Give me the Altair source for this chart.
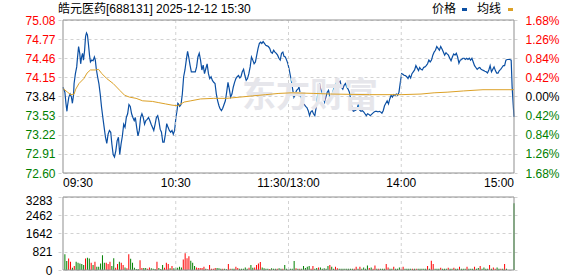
import altair as alt
import pandas as pd

TITLE = "皓元医药[688131] 2025-12-12 15:30"
LEGEND = ["价格", "均线"]
WATERMARK = "东方财富"
PRE_CLOSE = 73.84

price_ticks = [72.60, 72.91, 73.22, 73.53, 73.84, 74.15, 74.46, 74.77, 75.08]
pct_ticks = [-1.68, -1.26, -0.84, -0.42, 0.00, 0.42, 0.84, 1.26, 1.68]
vol_ticks = [0, 821, 1642, 2462, 3283]
time_ticks = [0, 60, 120, 180, 240]
time_labels = ["09:30", "10:30", "11:30/13:00", "14:00", "15:00"]
grid_minutes = [60, 120, 180]

price_minute = [
    0.0, 1.0, 1.6, 2.1, 2.4, 3.1, 3.8, 4.5, 5.0, 5.6, 5.9, 6.6, 7.3, 7.6, 8.3, 8.9, 9.4, 9.9, 10.4, 10.9,
    11.5, 12.0, 12.5, 13.0, 13.5, 14.1, 14.6, 15.3, 16.0, 16.7, 17.2, 17.7, 18.4, 19.1, 19.8, 20.5, 21.2, 21.9, 22.6, 23.3,
    24.0, 24.7, 25.4, 26.0, 26.7, 27.4, 28.1, 28.8, 29.5, 30.2, 30.9, 31.6, 32.3, 33.0, 33.7, 34.4, 35.1, 35.8, 36.5, 37.2,
    37.9, 38.5, 39.2, 39.9, 40.6, 41.3, 42.0, 42.7, 43.4, 44.1, 44.8, 45.5, 46.2, 46.9, 47.6, 48.3, 49.0, 49.7, 50.4, 51.0,
    51.7, 52.4, 53.1, 53.8, 54.5, 55.2, 55.9, 56.6, 57.3, 58.0, 58.7, 59.4, 60.1, 60.8, 61.1,
    61.4, 62.1, 62.8, 63.5, 64.2, 64.9, 65.6, 66.3, 66.9, 67.6, 68.3, 69.0, 69.8, 70.4, 71.1, 71.8, 72.5, 73.2, 73.9, 74.6,
    75.3, 76.0, 76.7, 77.4, 78.1, 78.8, 79.5, 80.2, 80.9, 81.6, 82.3, 83.0, 83.6, 84.3, 85.0, 85.7, 86.4, 87.1, 87.8, 88.5,
    89.2, 89.9, 90.6, 91.3, 92.0, 92.7, 93.4, 94.1, 94.7, 95.4, 96.1, 96.8, 97.5, 98.2, 98.9, 99.6, 100.3, 101.0, 101.7, 102.4,
    103.1, 103.8, 104.5, 105.2, 105.8, 106.5, 107.2, 107.9, 108.6, 109.3, 110.0, 110.7, 111.4, 112.1, 112.8, 113.5, 114.2, 114.9, 115.6, 116.3,
    117.0, 117.6, 118.3, 119.0, 119.7, 120.4, 121.1, 121.8,
    122.2, 122.9, 123.6, 124.3, 125.0, 125.6, 126.3, 127.0, 127.7, 128.4, 129.1, 129.8, 130.5, 131.2, 131.9, 132.6, 133.3, 134.0, 134.7, 135.4,
    136.1, 136.6, 137.1, 137.8, 138.5, 139.2, 139.9, 140.6, 141.3, 142.0, 142.6, 143.3, 144.0, 144.7, 145.4, 146.1, 146.8, 147.5, 148.2, 148.9,
    149.6, 150.3, 151.0, 151.7, 152.4, 153.1, 153.8, 154.5, 155.2, 155.9, 156.5, 157.2, 157.9, 158.6, 159.3, 160.0, 160.7, 161.4, 162.1, 162.8,
    163.5, 164.2, 164.9, 165.6, 166.3, 167.0, 167.6, 168.3, 169.0, 169.7, 170.4, 171.1, 171.8, 172.5, 173.2, 173.9, 174.6, 175.3, 176.0, 176.7,
    177.4, 178.1, 178.8, 179.5, 180.2, 180.9, 181.6,
    182.2, 182.9, 183.6, 184.3, 185.0, 185.7, 186.4, 187.1, 187.8, 188.5, 189.2, 189.8, 190.5, 191.2, 191.9, 192.6, 193.3, 194.0, 194.7, 195.4,
    196.1, 196.8, 197.5, 198.2, 198.9, 199.6, 200.3, 201.0, 201.7, 202.4, 203.1, 203.8, 204.4, 205.1, 205.8, 206.5, 207.2, 207.9, 208.6, 209.3,
    210.0, 210.7, 211.4, 212.1, 212.8, 213.5, 214.1, 214.8, 215.5, 216.2, 216.9, 217.6, 218.3, 219.0, 219.7, 220.4, 221.1, 221.8, 222.5, 223.2,
    223.9, 224.5, 225.2, 225.9, 226.6, 227.3, 228.0, 228.7, 229.4, 230.1, 230.8, 231.5, 232.2, 232.9, 233.6, 234.3, 235.0, 235.7, 236.4, 237.1,
    237.8, 238.5, 239.0, 239.6, 240.0,
]
price_value = [
    73.99, 73.91, 73.72, 73.60, 73.69, 73.83, 73.88, 73.83, 73.73, 73.86, 74.05, 74.21, 74.32, 74.43, 74.65, 74.54, 74.37, 74.48, 74.54, 74.43,
    74.59, 74.81, 74.87, 74.84, 74.70, 74.51, 74.40, 74.43, 74.42, 74.48, 74.43, 74.29, 74.16, 74.05, 73.88, 73.67, 73.50, 73.34, 73.18, 73.08,
    73.23, 73.29, 73.26, 73.07, 72.90, 72.86, 72.96, 73.12, 73.18, 72.90, 73.07, 73.20, 73.39, 73.34, 73.50, 73.56, 73.71, 73.68, 73.56, 73.50,
    73.45, 73.50, 73.34, 73.20, 73.29, 73.50, 73.56, 73.50, 73.39, 73.45, 73.47, 73.50, 73.45, 73.39, 73.34, 73.29, 73.39, 73.50, 73.53, 73.45,
    73.31, 73.26, 73.10, 73.10, 73.23, 73.40, 73.34, 73.29, 73.26, 73.29, 73.23, 73.29, 73.50, 73.64, 73.73,
    73.72, 73.68, 73.71, 73.88, 74.16, 74.27, 74.43, 74.57, 74.48, 74.35, 74.24, 74.24, 74.24, 74.24, 74.32, 74.48, 74.54, 74.43, 74.27, 74.35,
    74.21, 74.29, 74.37, 74.21, 74.13, 74.16, 74.10, 74.07, 74.05, 73.88, 73.77, 73.69, 73.64, 73.61, 73.65, 73.71, 73.77, 73.91, 74.07, 73.96,
    73.83, 73.88, 73.99, 74.07, 74.13, 74.16, 74.18, 74.14, 74.16, 74.24, 74.28, 74.18, 74.10, 74.13, 74.21, 74.32, 74.48, 74.43, 74.37, 74.40,
    74.51, 74.62, 74.70, 74.72, 74.70, 74.73, 74.70, 74.67, 74.66, 74.65, 74.62, 74.56, 74.54, 74.59, 74.56, 74.54, 74.51, 74.46, 74.43, 74.54,
    74.56, 74.49, 74.48, 74.43, 74.37, 74.27, 74.16, 74.05,
    73.96, 73.83, 73.88, 73.94, 73.96, 73.99, 73.88, 73.80, 73.72, 73.71, 73.68, 73.66, 73.61, 73.53, 73.59, 73.61, 73.56, 73.53, 73.66, 73.83,
    73.96, 74.05, 73.96, 73.91, 73.83, 73.75, 73.83, 73.91, 73.94, 73.83, 73.83, 73.88, 73.96, 74.02, 74.06, 74.05, 74.07, 74.09, 73.99, 73.96,
    74.02, 74.05, 73.99, 73.96, 73.91, 73.80, 73.64, 73.60, 73.61, 73.62, 73.64, 73.72, 73.62, 73.60, 73.61, 73.59, 73.56, 73.53, 73.56, 73.55,
    73.53, 73.55, 73.57, 73.59, 73.60, 73.60, 73.59, 73.60, 73.59, 73.57, 73.61, 73.69, 73.73, 73.77, 73.72, 73.80, 73.86, 73.83, 73.87, 73.86,
    73.88, 73.86, 73.91, 74.07, 74.21, 74.20, 74.18,
    74.18, 74.16, 74.13, 74.18, 74.14, 74.21, 74.24, 74.27, 74.34, 74.30, 74.26, 74.31, 74.28, 74.27, 74.31, 74.32, 74.34, 74.37, 74.43, 74.40,
    74.43, 74.51, 74.56, 74.59, 74.65, 74.62, 74.59, 74.65, 74.61, 74.56, 74.51, 74.55, 74.53, 74.51, 74.46, 74.42, 74.48, 74.53, 74.51, 74.54,
    74.48, 74.38, 74.43, 74.44, 74.46, 74.46, 74.44, 74.46, 74.44, 74.46, 74.43, 74.46, 74.40, 74.34, 74.31, 74.28, 74.30, 74.31, 74.28, 74.27,
    74.26, 74.25, 74.24, 74.22, 74.27, 74.34, 74.24, 74.28, 74.32, 74.26, 74.22, 74.22, 74.26, 74.28, 74.31, 74.34, 74.34, 74.43, 74.44, 74.44,
    74.44, 74.43, 74.00, 73.70, 73.51,
]

avg_minute = [0, 2.4, 4.2, 5.9, 6.8, 8.5, 11.1, 12.8, 14.6, 17.2, 18.9, 20.7, 23.3, 26.7, 30.2,
              32.8, 35.4, 38.9, 42.4, 47.6, 51.0, 54.5, 58.0, 61.1, 64.5, 68.0, 73.2, 80.2, 87.1, 94.1,
              101.0, 107.9, 114.9, 121.8, 133.5, 142.3, 163.1, 177.0, 180.1, 190.5, 197.5, 204.4, 213.1, 223.5, 240]
avg_value = [73.97, 73.91, 73.87, 73.88, 73.96, 74.05, 74.13, 74.22, 74.27, 74.27, 74.28, 74.21, 74.13, 74.05, 73.94,
             73.86, 73.83, 73.81, 73.77, 73.76, 73.74, 73.72, 73.70, 73.69, 73.75, 73.77, 73.80, 73.81, 73.81, 73.83,
             73.85, 73.87, 73.89, 73.90, 73.89, 73.88, 73.87, 73.87, 73.87, 73.88, 73.90, 73.91, 73.93, 73.95, 73.95]

vol_minute = list(range(1, 237)) + [240]
vol_value = [
    710, 400, 518, 370, 104, 177, 370, 325, 296, 266,
    222, 518, 547, 518, 325, 222, 370, 148, 148, 296,
    665, 325, 325, 266, 370, 177, 532, 104, 266, 370,
    325, 222, 118, 74, 710, 503, 325, 104, 44, 44,
    444, 89, 89, 89, 59, 118, 74, 59, 44, 370,
    89, 44, 222, 104, 325, 266, 74, 177, 74, 104,
    104, 148, 118, 473, 754, 532, 621, 414, 325, 177,
    118, 89, 89, 89, 148, 59, 30, 222, 59, 59,
    89, 89, 74, 59, 59, 59, 30, 266, 59, 59,
    59, 148, 89, 59, 59, 59, 118, 59, 104, 222,
    104, 118, 222, 296, 355, 118, 74, 59, 59, 44,
    74, 59, 59, 59, 74, 59, 59, 222, 59, 59,
    59, 59, 400, 74, 59, 59, 59, 177, 89, 148,
    177, 59, 177, 59, 89, 118, 118, 59, 74, 59,
    177, 222, 148, 59, 148, 74, 59, 59, 59, 59,
    59, 59, 59, 59, 59, 148, 59, 148, 59, 118,
    59, 207, 89, 118, 59, 207, 59, 59, 59, 59,
    59, 266, 118, 59, 59, 148, 59, 59, 118, 59,
    148, 59, 59, 59, 59, 59, 59, 59, 59, 59,
    59, 59, 59, 177, 59, 414, 266, 59, 59, 59,
    104, 59, 59, 59, 104, 59, 59, 104, 59, 59,
    148, 59, 59, 59, 148, 59, 59, 59, 148, 59,
    89, 177, 59, 118, 59, 59, 222, 59, 118, 59,
    118, 59, 59, 59, 266, 59,
    3002,
]
vol_dir = list(
    "ggrrgrgggg" "grggrgrggg" "ggrrrggrrg" "rrgrrggggg" "rrggrrgggr"
    "gggrrrgrgg" "gggrrrrggg" "rrrrrgrrrr" "rgggrggrrg" "grrgggggrg"
    "grrrrggggr" "gggrggrggg" "gggrgrgggg" "grrggrgggg" "grggrrgggg"
    "ggggrrgrgg" "ggrgrrgrgg" "grrggrgggr" "rggggrgrgg" "gggrgrrggg"
    "rgggrggrgg" "rgggrgggrg" "grggggrgrr" "ggrgrg" "g"
)

FONT = "Liberation Sans, Arial, Noto Sans CJK SC"
CJK = "Noto Sans CJK SC"
BLUE = "#0b4fa3"
ORANGE = "#dca127"
RED = "#ff0000"
GREEN = "#008000"
GRID = "#d2d2d2"
BORDER = "#8f8f8f"

W, H = 461, 250
P_RANGE = [153, 0]
V_RANGE = [250, 177]


def p_scale():
    return alt.Scale(domain=[price_ticks[0], price_ticks[-1]], range=P_RANGE, nice=False, zero=False)


def v_scale():
    return alt.Scale(domain=[vol_ticks[0], vol_ticks[-1]], range=V_RANGE, nice=False, zero=False)


x_scale = alt.Scale(domain=[time_ticks[0], time_ticks[-1]], nice=False, zero=False)
pct_scale = alt.Scale(domain=[pct_ticks[0], pct_ticks[-1]], range=P_RANGE, nice=False, zero=False)

price_axis = alt.Axis(
    orient="left", values=price_ticks, format=".2f", grid=True, gridDash=[3, 3], gridColor=GRID,
    domain=False, ticks=False, labelPadding=3, labelFont=FONT, labelFontSize=12,
    labelColor={"expr": f"datum.value > {PRE_CLOSE + 0.001} ? '{RED}' : (datum.value < {PRE_CLOSE - 0.001} ? '{GREEN}' : '#000000')"},
    labelOverlap=False, title=None,
)
pct_axis = alt.Axis(
    orient="right", values=pct_ticks, labelExpr="format(abs(datum.value), '.2f') + '%'",
    grid=False, domain=False, ticks=False, labelPadding=6, labelFont=FONT, labelFontSize=12,
    labelColor={"expr": f"datum.value > 0.001 ? '{RED}' : (datum.value < -0.001 ? '{GREEN}' : '#000000')"},
    labelOverlap=False, title=None,
)
vol_axis = alt.Axis(
    orient="left", values=vol_ticks, format="d", grid=True, gridDash=[3, 3], gridColor=GRID,
    domain=False, ticks=False, labelPadding=6, labelFont=FONT, labelFontSize=12, labelColor="#000000",
    labelOffset={"expr": f"datum.value >= {vol_ticks[-1]} ? 3 : 0"},
    labelOverlap=False, title=None,
)

price_df = pd.DataFrame({"m": price_minute, "p": price_value})
avg_df = pd.DataFrame({"m": avg_minute, "p": avg_value})
grid_df = pd.DataFrame({"m": grid_minutes})
vol_df = pd.DataFrame({"m": vol_minute, "v": vol_value, "d": vol_dir})
time_df = pd.DataFrame({"m": time_ticks, "t": time_labels})
one = alt.Data(values=[{}])

xq = alt.X("m:Q", scale=x_scale, axis=None)

# ---- price panel ----
p_vgrid = alt.Chart(grid_df).mark_rule(color=GRID, strokeDash=[3, 3]).encode(
    x=xq, y=alt.YDatum(price_ticks[0], scale=p_scale(), axis=None), y2=alt.Y2Datum(price_ticks[-1]))
watermark = alt.Chart(alt.Data(values=[{"t": WATERMARK}])).mark_text(
    font=CJK, fontSize=34, fontWeight="bold", color="#e6e6eb", align="center", baseline="middle"
).encode(text="t:N", x=alt.value(252), y=alt.value(77))
avg_line = alt.Chart(avg_df).mark_line(color=ORANGE, strokeWidth=1).encode(
    x=xq, y=alt.Y("p:Q", scale=p_scale(), axis=None))
price_line = alt.Chart(price_df).mark_line(color=BLUE, strokeWidth=1.2).encode(
    x=xq, y=alt.Y("p:Q", scale=p_scale(), axis=price_axis))
p_box = alt.Chart(one).mark_rect(fill="transparent", stroke=BORDER, strokeWidth=1).encode(
    x=alt.XDatum(time_ticks[0], scale=x_scale, axis=None), x2=alt.X2Datum(time_ticks[-1]),
    y=alt.YDatum(price_ticks[0], scale=p_scale(), axis=None), y2=alt.Y2Datum(price_ticks[-1]))

# ---- time labels (between the panels) ----
TY = P_RANGE[0] + 10
t_first = alt.Chart(time_df.iloc[:1]).mark_text(
    font=FONT, fontSize=12, color="#000000", align="left", baseline="middle"
).encode(x=xq, y=alt.value(TY), text="t:N")
t_mid = alt.Chart(time_df.iloc[1:-1]).mark_text(
    font=FONT, fontSize=12, color="#000000", align="center", baseline="middle"
).encode(x=xq, y=alt.value(TY), text="t:N")
t_last = alt.Chart(time_df.iloc[-1:]).mark_text(
    font=FONT, fontSize=12, color="#000000", align="right", baseline="middle"
).encode(x=xq, y=alt.value(TY), text="t:N")

# ---- percent axis ----
pct_layer = alt.Chart(pd.DataFrame({"v": pct_ticks})).mark_point(opacity=0).encode(
    y=alt.Y("v:Q", scale=pct_scale, axis=pct_axis))

# ---- volume panel ----
v_vgrid = alt.Chart(grid_df).mark_rule(color=GRID, strokeDash=[3, 3]).encode(
    x=xq, y=alt.YDatum(vol_ticks[0], scale=v_scale(), axis=None), y2=alt.Y2Datum(vol_ticks[-1]))
bars = alt.Chart(vol_df).mark_bar(size=1).encode(
    x=xq, y=alt.Y("v:Q", scale=v_scale(), axis=vol_axis),
    color=alt.Color("d:N", scale=alt.Scale(domain=["r", "g"], range=[RED, GREEN]), legend=None))
v_box = alt.Chart(one).mark_rect(fill="transparent", stroke=BORDER, strokeWidth=1).encode(
    x=alt.XDatum(time_ticks[0], scale=x_scale, axis=None), x2=alt.X2Datum(time_ticks[-1]),
    y=alt.YDatum(vol_ticks[0], scale=v_scale(), axis=None), y2=alt.Y2Datum(vol_ticks[-1]))

# ---- header: title and legend ----
HY = -11
title_txt = alt.Chart(alt.Data(values=[{"t": TITLE}])).mark_text(
    font=FONT, fontSize=12, color="#000000", align="left", baseline="middle"
).encode(text="t:N", x=alt.value(0), y=alt.value(HY))
leg1 = alt.Chart(alt.Data(values=[{"t": LEGEND[0]}])).mark_text(
    font=CJK, fontSize=12, color="#000000", align="left", baseline="middle"
).encode(text="t:N", x=alt.value(374), y=alt.value(HY))
leg2 = alt.Chart(alt.Data(values=[{"t": LEGEND[1]}])).mark_text(
    font=CJK, fontSize=12, color="#000000", align="left", baseline="middle"
).encode(text="t:N", x=alt.value(419), y=alt.value(HY))
sw1 = alt.Chart(one).mark_rect(color=BLUE).encode(
    x=alt.value(404), x2=alt.value(409), y=alt.value(HY - 1), y2=alt.value(HY + 2))
sw2 = alt.Chart(one).mark_rect(color=ORANGE).encode(
    x=alt.value(450), x2=alt.value(455), y=alt.value(HY - 1), y2=alt.value(HY + 2))

chart = alt.layer(
    price_line, p_vgrid, watermark, avg_line, p_box,
    t_first, t_mid, t_last,
    pct_layer,
    bars, v_vgrid, v_box,
    title_txt, leg1, leg2, sw1, sw2,
).resolve_scale(
    y="independent", color="independent"
).properties(
    width=W, height=H,
    padding={"left": 58, "top": 20, "right": 59, "bottom": 6},
    autosize=alt.AutoSizeParams(type="none"),
).configure_view(stroke="transparent")

chart.save("out.html", embed_options={"renderer": "svg", "actions": False})
